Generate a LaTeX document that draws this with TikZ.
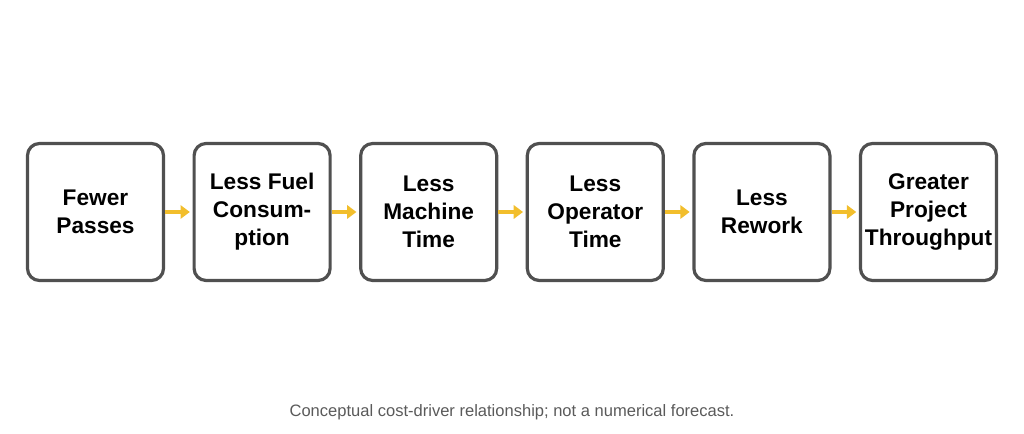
\documentclass[tikz,border=0pt]{standalone}
\usepackage{fontspec}
\setmainfont{Liberation Sans}
\usetikzlibrary{positioning,arrows.meta}
\definecolor{boxgray}{HTML}{505050}
\definecolor{arrowyellow}{HTML}{F2BE2C}
\definecolor{capgray}{HTML}{5A5A5A}
\begin{document}
\begin{tikzpicture}[x=0.75pt,y=0.75pt,node distance=27.4*0.75pt]
\tikzstyle{stage}=[draw=boxgray,line width=2.4pt,rounded corners=9pt,fill=white,
  minimum width=136*0.75pt,minimum height=137*0.75pt,align=center,
  font=\bfseries\fontsize{17}{21}\selectfont,inner sep=1pt]
\tikzstyle{link}=[draw=arrowyellow,line width=2.6pt,-{Triangle[length=7pt,width=10pt]}]

\useasboundingbox (0,0) rectangle (1024,434);

\node [stage] (a) at (95.5,222) {Fewer\\Passes};
\node [stage,right=of a] (b) {Less Fuel\\Consum-\\ption};
\node [stage,right=of b] (c) {Less\\Machine\\Time};
\node [stage,right=of c] (d) {Less\\Operator\\Time};
\node [stage,right=of d] (e) {Less\\Rework};
\node [stage,right=of e] (f) {Greater\\Project\\Throughput};

\foreach \u/\v in {a/b,b/c,c/d,d/e,e/f}
  \draw [link] ([xshift=0pt]\u.east) -- ([xshift=-2pt]\v.west);

\node [text=capgray,font=\fontsize{12.4}{15}\selectfont] (cap) at (512,22) {Conceptual cost-driver relationship; not a numerical forecast.};
\end{tikzpicture}
\end{document}
